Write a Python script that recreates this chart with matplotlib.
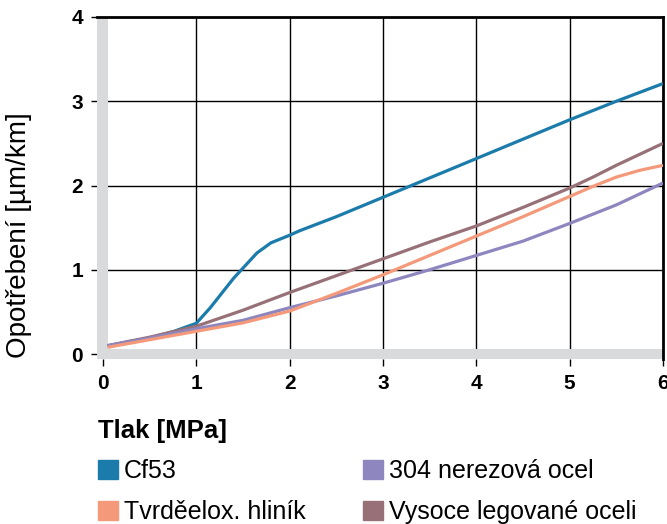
import matplotlib.pyplot as plt
from matplotlib.patches import Patch

plt.rcParams['font.family'] = ['Liberation Sans', 'DejaVu Sans']

# Cf53
cf53_x = [0.05, 0.25, 0.5, 0.75, 1.0, 1.15, 1.3, 1.4, 1.5, 1.65, 1.8, 2.0, 2.1,
          2.5, 3.0, 3.5, 4.0, 4.5, 5.0, 5.5, 6.0]
cf53_y = [0.095, 0.14, 0.19, 0.265, 0.365, 0.55, 0.76, 0.90, 1.02, 1.20, 1.32, 1.41, 1.46,
          1.63, 1.86, 2.09, 2.32, 2.55, 2.78, 3.00, 3.21]

# other materials share x points
mat_x = [0.05, 0.5, 1.0, 1.5, 2.0, 2.5, 3.0, 3.5, 4.0, 4.5, 5.0, 5.25, 5.5, 5.75, 6.0]
alu_y = [0.08, 0.17, 0.27, 0.37, 0.51, 0.72, 0.94, 1.17, 1.40, 1.63, 1.87, 1.99, 2.10, 2.18, 2.24]
steel304_y = [0.10, 0.19, 0.30, 0.40, 0.55, 0.69, 0.84, 1.00, 1.17, 1.34, 1.55, 1.66, 1.77, 1.90, 2.03]
alloy_y = [0.10, 0.20, 0.33, 0.52, 0.73, 0.93, 1.13, 1.33, 1.52, 1.74, 1.97, 2.10, 2.24, 2.37, 2.50]

labels = ['Cf53', 'Tvrděelox. hliník', '304 nerezová ocel', 'Vysoce legované oceli']
colors = ['#1b7bab', '#f4997a', '#8d86bf', '#977177']
x_ticks = [0, 1, 2, 3, 4, 5, 6]
y_ticks = [0, 1, 2, 3, 4]

W, H = 667, 524
fig = plt.figure(figsize=(W / 100, H / 100), dpi=100)
# axes box in pixels: x 97..663, y 17..359
ax = fig.add_axes([97 / W, 1 - 359 / H, (663 - 97) / W, (359 - 17) / H])

ax.set_xlim(-0.064, 6)
ax.set_ylim(-0.059, 4)

# grey bands along left and bottom
ax.axvspan(-0.064, 0.054, color='#d9dadc', zorder=2, lw=0)
ax.axhspan(-0.059, 0.06, color='#d9dadc', zorder=2, lw=0)

for v in [1, 2, 3, 4, 5]:
    ax.axvline(v, color='black', lw=1, zorder=1)
for v in [1, 2, 3]:
    ax.axhline(v, color='black', lw=1, zorder=1)

ax.plot(cf53_x, cf53_y, color=colors[0], lw=2.3, zorder=3, solid_capstyle='butt')
ax.plot(mat_x, alloy_y, color=colors[3], lw=2.3, zorder=3, solid_capstyle='butt')
ax.plot(mat_x, steel304_y, color=colors[2], lw=2.3, zorder=3, solid_capstyle='butt')
ax.plot(mat_x, alu_y, color=colors[1], lw=2.3, zorder=3, solid_capstyle='butt')

ax.spines['left'].set_visible(False)
ax.spines['bottom'].set_visible(False)
ax.spines['top'].set_linewidth(2)
ax.spines['right'].set_linewidth(2)

ax.set_xticks(x_ticks)
ax.set_yticks(y_ticks)
ax.tick_params(axis='x', direction='out', length=5, width=1, pad=6)
ax.tick_params(axis='y', direction='out', length=4, width=1, pad=6)
for lab in ax.get_xticklabels() + ax.get_yticklabels():
    lab.set_family(['Liberation Sans Narrow', 'Liberation Sans'])
    lab.set_fontsize(15)
    lab.set_fontweight('bold')

ax.set_ylabel('Opotřebení [µm/km]', fontsize=20)
ax.yaxis.set_label_coords(-0.115, 0.363)

fig.text(98 / W, 1 - 431 / H, 'Tlak [MPa]', fontsize=18.5, fontweight='bold', va='center')

handles = [Patch(color=c) for c in colors]
fig.legend(handles, labels, ncol=2, loc='upper left', bbox_to_anchor=(80 / W, 1 - 442 / H),
           frameon=False, fontsize=18, handlelength=0.8, handleheight=0.8,
           handletextpad=0.25, labelspacing=0.66, columnspacing=2.3, borderpad=0.2)

fig.savefig('out.png', dpi=100)
